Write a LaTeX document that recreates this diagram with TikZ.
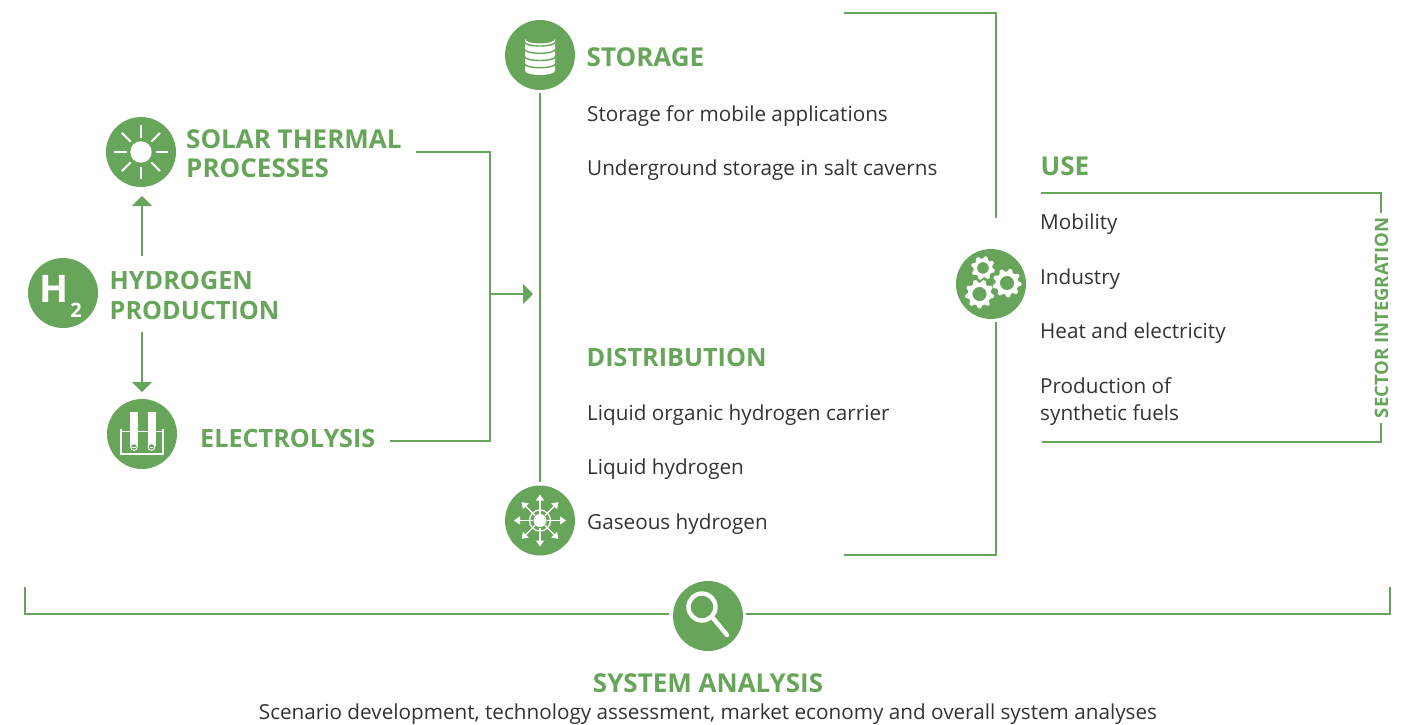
\documentclass[tikz,border=0pt]{standalone}
\usepackage{fontspec}
\setmainfont{Open Sans}
\usetikzlibrary{arrows.meta}
\definecolor{hgreen}{HTML}{67A65A}
\definecolor{btext}{HTML}{333333}
\tikzset{
  iconc/.style={circle,fill=hgreen,minimum size=70pt,inner sep=0pt,outer sep=4pt},
  head/.style={anchor=base west,inner sep=0pt,text=hgreen,font=\fontsize{26}{29}\selectfont\bfseries,align=left},
  headn/.style={anchor=base west,inner sep=0pt,text=hgreen,font=\fontsize{25.2}{29}\selectfont\bfseries,align=left},
  body/.style={anchor=base west,inner sep=0pt,text=btext,font=\fontsize{20.7}{27}\selectfont,align=left},
  gline/.style={draw=hgreen,line width=2pt},
  garrow/.style={gline,-{Triangle[length=10pt,width=20pt]}},
  wl/.style={draw=white,line width=2pt},
  pics/gearicon/.style n args={3}{code={
    \fill[white,even odd rule]
      plot[samples=#2*4+1,domain=0:360,variable=\t]
        ({(#1+(#1*0.26)*(mod(round(\t*#2*4/360),4)<2 ? 1 : 0))*cos(\t+#3)},{(#1+(#1*0.26)*(mod(round(\t*#2*4/360),4)<2 ? 1 : 0))*sin(\t+#3)}) -- cycle
      (0,0) circle[radius=#1*0.62];
  }},
}
\begin{document}
\begin{tikzpicture}[x=1pt,y=-1pt]
\useasboundingbox (0,0) rectangle (1411,724);
% icon circles
\node[iconc] (h2) at (63,293) {};
\node[iconc] (sun) at (141,152) {};
\node[iconc] (elec) at (142,434) {};
\node[iconc] (stor) at (540,55) {};
\node[iconc] (dist) at (540,520.5) {};
\node[iconc] (gears) at (991,284) {};
\node[iconc] (sys) at (708,616) {};
% H2
\node[anchor=base,inner sep=0pt,text=white,font=\fontsize{38}{38}\selectfont\bfseries] (h2a) at (54.5,302) {H};
\node[anchor=base,inner sep=0pt,text=white,font=\fontsize{20}{20}\selectfont\bfseries] (h2b) at (76,317) {2};
% sun
\fill[white] (sun.center) circle[radius=10.7];
\foreach \a in {0,45,...,315}{
  \draw[wl] (sun.center) ++(\a:14.5) -- ++(\a:12.5);
}
% electrolysis
\fill[white] (130,412) rectangle (138,446);
\fill[white] (147.5,412) rectangle (155.5,446);
\draw[white,line width=1.1pt] (121,429) -- (121,454) -- (163,454) -- (163,429);
\draw[white,line width=0.7pt] (121,431) -- (130,431) (138,431) -- (147.5,431) (155.5,431) -- (163,431);
\foreach \x in {134,151.5}{
  \draw[white,fill=hgreen,line width=0.9pt] (\x,447) circle[radius=3.4];
  \draw[white,line width=0.7pt] (\x-1.9,447) -- (\x+1.9,447);
}
% database
\fill[white] (525,39) -- (525,70.5) arc[start angle=180,end angle=360,x radius=15,y radius=-4.5] -- (555,39) arc[start angle=0,end angle=180,x radius=15,y radius=4.5] -- cycle;
\foreach \y in {42,49.3,56.5,63.7}{
  \draw[hgreen,line width=1.4pt] (524.5,\y) arc[start angle=180,end angle=360,x radius=15.5,y radius=-4];
}
% distribution
\fill[white] (dist.center) circle[radius=6.5];
\draw[white,line width=1.3pt] (dist.center) circle[radius=10.5];
\foreach \a in {0,45,...,315}{
  \draw[white,line width=1.2pt,-{Triangle[length=6pt,width=8pt]}] (dist.center) ++(\a:7) -- ++(\a:19);
}
% gears
\pic at (983,268) {gearicon={9.5}{8}{10}};
\pic at (1007,283) {gearicon={11.5}{9}{0}};
\pic at (979.5,294) {gearicon={11.5}{9}{5}};
% search
\draw[white,line width=4.4pt] (702,607) circle[radius=13.5];
\draw[white,line width=4.4pt,line cap=round] (713,618) -- (727,635);
% texts
\node[head] (solar) at (186,148) {SOLAR THERMAL};
\node[head] (proc) at (186,177) {PROCESSES};
\node[headn] (hyd) at (109.5,289) {HYDROGEN};
\node[headn] (prod) at (109.5,319) {PRODUCTION};
\node[headn] (eltxt) at (200,447) {ELECTROLYSIS};
\node[head] (sttxt) at (586.5,66) {STORAGE};
\node[headn] (dttxt) at (586.5,366) {DISTRIBUTION};
\node[head] (usetxt) at (1040.5,175) {USE};
\node[head] (systxt) at (708,692) [anchor=base] {SYSTEM ANALYSIS};
\node[body] (s1) at (587,121) {Storage for mobile applications};
\node[body] (s2) at (587,175) {Underground storage in salt caverns};
\node[body] (d1) at (587,420) {Liquid organic hydrogen carrier};
\node[body] (d2) at (587,474) {Liquid hydrogen};
\node[body] (d3) at (587,529) {Gaseous hydrogen};
\node[body] (u1) at (1040,229) {Mobility};
\node[body] (u2) at (1040,284) {Industry};
\node[body] (u3) at (1040,338) {Heat and electricity};
\node[body] (u4) at (1040,393) {Production of};
\node[body] (u5) at (1040,420) {synthetic fuels};
\node[body,anchor=base] (sa) at (708,719) {Scenario development, technology assessment, market economy and overall system analyses};
\node[anchor=base,inner sep=0pt,text=hgreen,rotate=90,font=\fontsize{18.5}{20}\selectfont\bfseries] (sec) at (1388,318) {SECTOR INTEGRATION};
% connector coordinates
\coordinate (a1) at (416,152);
\coordinate (a2) at (490,152);
\coordinate (a3) at (490,441);
\coordinate (a4) at (390,441);
\coordinate (a5) at (490,294);
\coordinate (a6) at (533,294);
\coordinate (b1) at (844,13);
\coordinate (b2) at (996,13);
\coordinate (b3) at (996,218);
\coordinate (b4) at (996,322);
\coordinate (b5) at (996,555);
\coordinate (b6) at (844,555);
\coordinate (c1) at (1041,193);
\coordinate (c2) at (1381,193);
\coordinate (c3) at (1381,213);
\coordinate (c4) at (1381,423);
\coordinate (c5) at (1381,442);
\coordinate (c6) at (1042,442);
\coordinate (e1) at (25,587);
\coordinate (e2) at (25,614);
\coordinate (e3) at (669,614);
\coordinate (e4) at (746,614);
\coordinate (e5) at (1390,614);
\coordinate (e6) at (1390,587);
\coordinate (f1) at (142,256);
\coordinate (f2) at (142,196);
\coordinate (f3) at (142,332);
\coordinate (f4) at (142,392);
\coordinate (v1) at (540,93);
\coordinate (v2) at (540,482);
% connectors
\draw[gline] (a1) -- (a2) -- (a3) -- (a4);
\draw[garrow] (a5) -- (a6);
\draw[gline] (v1) -- (v2);
\draw[gline] (b1) -- (b2) -- (b3);
\draw[gline] (b4) -- (b5) -- (b6);
\draw[gline] (c1) -- (c2) -- (c3);
\draw[gline] (c4) -- (c5) -- (c6);
\draw[gline] (e1) -- (e2) -- (e3);
\draw[gline] (e4) -- (e5) -- (e6);
\draw[garrow] (f1) -- (f2);
\draw[garrow] (f3) -- (f4);
\end{tikzpicture}
\end{document}
